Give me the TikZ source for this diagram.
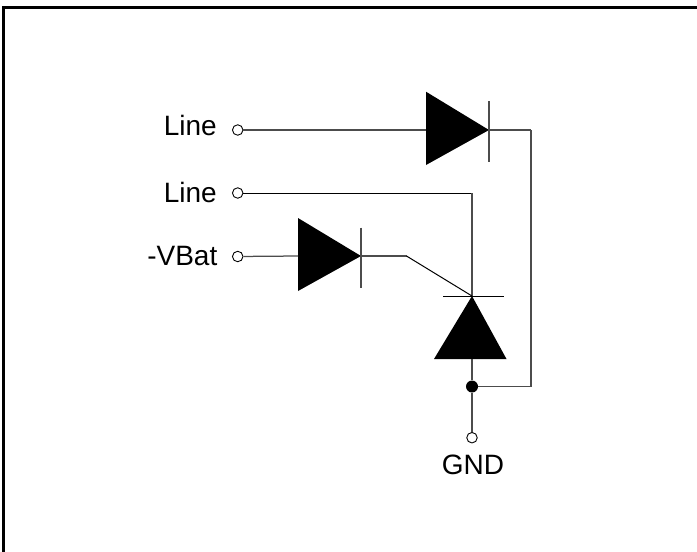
\documentclass[tikz,border=0pt]{standalone}
\usepackage{fontspec}
\setmainfont{Liberation Sans}

\tikzset{
  wire/.style={line width=1.25pt,black!70},
  thinwire/.style={line width=1pt,black},
  pin/.style={circle,draw,fill=white,line width=0.9pt,inner sep=0pt,minimum size=10.5pt},
  pinlabel/.style={font=\fontsize{28}{32}\selectfont,inner sep=0pt},
  joint/.style={circle,fill=black,inner sep=0pt,minimum size=12pt},
}

\begin{document}
\begin{tikzpicture}[x=1pt,y=-1pt]
\useasboundingbox (0,0) rectangle (697,552);
\draw[line width=3pt] (3.5,552) -- (3.5,7.5) -- (697,7.5);
% line 1
\node[pin] (pina) at (237.7,130) {};
\node[pinlabel,anchor=base east] (laba) at (217,135.5) {Line};
\coordinate (da) at (426,130);
\coordinate (ka) at (489,130);
\coordinate (ra) at (531,130);
\fill (426,91.7) -- (489,130) -- (426,165) -- cycle;
\draw[wire] (489,101) -- (489,161.7);
\draw[wire] (pina) -- (da);
\draw[wire] (ka) -- (ra);
% line 2
\node[pin] (pinb) at (237.7,193) {};
\node[pinlabel,anchor=base east] (labb) at (217,202) {Line};
\coordinate (tb) at (472,193);
\coordinate (kc) at (472,296);
\draw[thinwire] (pinb) -- (tb);
\draw[wire] (tb) -- (kc);
% vbat
\node[pin] (pinc) at (237.7,256.5) {};
\node[pinlabel,anchor=base east] (labc) at (217.5,265.5) {-VBat};
\coordinate (db) at (298,256);
\coordinate (kb) at (361,256);
\coordinate (bend) at (406.5,256);
\fill (298,218) -- (361,256) -- (298,291) -- cycle;
\draw[wire] (361,227.7) -- (361,288);
\draw[wire] (pinc) -- (db);
\draw[wire] (kb) -- (bend);
\draw[thinwire] (bend) -- (kc);
% lower diode
\fill (472,296) -- (506.5,359) -- (434,359) -- cycle;
\draw[thinwire] (443,296) -- (503.5,296);
\coordinate (ac) at (472,359);
\node[joint] (jn) at (472,386.5) {};
\node[pin] (pind) at (472,437.7) {};
\node[pinlabel,anchor=base] (labd) at (473,474) {GND};
\coordinate (rb) at (531,386.5);
\draw[wire] (ac) -- (jn);
\draw[wire] (jn) -- (pind);
\draw[wire] (jn) -- (rb) -- (ra);
\end{tikzpicture}
\end{document}
